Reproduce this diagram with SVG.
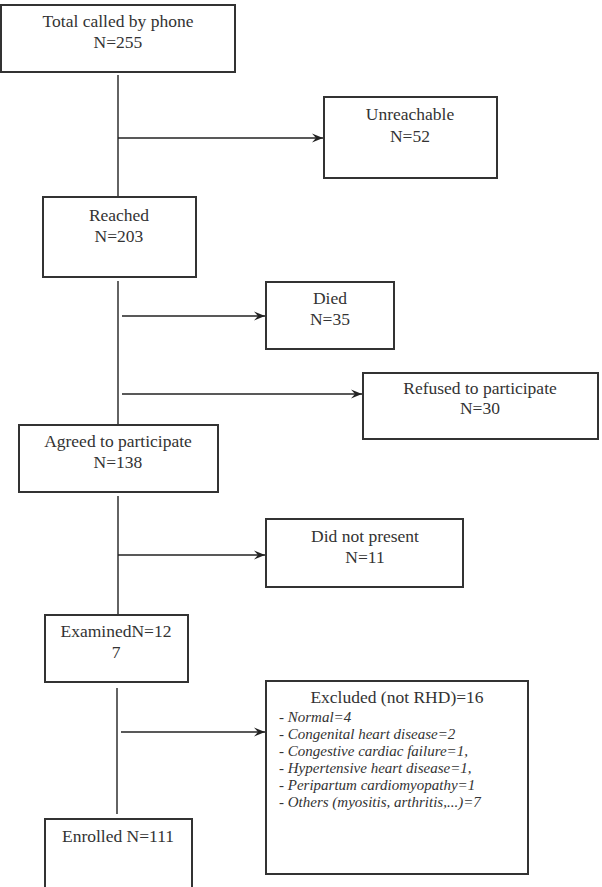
<svg xmlns="http://www.w3.org/2000/svg" width="602" height="887" viewBox="0 0 602 887">
<style>
.box{fill:#fff;stroke:#333;stroke-width:2}
.t{font-size:17.5px;fill:#333;text-anchor:middle}
.i{font-size:15px;font-style:italic;fill:#333}
.ln{stroke:#222;stroke-width:1.4;fill:none}
</style>
<defs>
<marker id="ar" markerWidth="12" markerHeight="10" refX="11" refY="5" orient="auto" markerUnits="userSpaceOnUse">
<path d="M0,0.5 L11,5 L0,9.5 L4,5 Z" fill="#222"/>
</marker>
</defs>
<rect width="602" height="887" fill="#fff"/>
<g id="connectors">
<line class="ln" x1="118" y1="75" x2="118" y2="197"/>
<line class="ln" x1="118" y1="138" x2="323" y2="138" marker-end="url(#ar)"/>
<line class="ln" x1="118" y1="281" x2="118" y2="425"/>
<line class="ln" x1="122" y1="316" x2="265" y2="316" marker-end="url(#ar)"/>
<line class="ln" x1="122" y1="394" x2="362" y2="394" marker-end="url(#ar)"/>
<line class="ln" x1="118" y1="496" x2="118" y2="615"/>
<line class="ln" x1="118" y1="555" x2="265" y2="555" marker-end="url(#ar)"/>
<line class="ln" x1="117" y1="688" x2="117" y2="814"/>
<line class="ln" x1="121" y1="732" x2="265" y2="732" marker-end="url(#ar)"/>
</g>
<g font-family="Liberation Serif, Times New Roman, DejaVu Serif, serif">
<g id="total">
<rect class="box" x="1" y="5" width="234" height="67"/>
<text class="t" x="118" y="27">Total called by phone</text>
<text class="t" x="118" y="48">N=255</text>
</g>
<g id="unreachable">
<rect class="box" x="324" y="97" width="173" height="81"/>
<text class="t" x="410" y="120">Unreachable</text>
<text class="t" x="410" y="142">N=52</text>
</g>
<g id="reached">
<rect class="box" x="43" y="197" width="153" height="80"/>
<text class="t" x="119" y="221">Reached</text>
<text class="t" x="119" y="242">N=203</text>
</g>
<g id="died">
<rect class="box" x="266" y="282" width="128" height="67"/>
<text class="t" x="330" y="304">Died</text>
<text class="t" x="330" y="325">N=35</text>
</g>
<g id="refused">
<rect class="box" x="363" y="373" width="235" height="66"/>
<text class="t" x="480" y="394">Refused to participate</text>
<text class="t" x="480" y="414">N=30</text>
</g>
<g id="agreed">
<rect class="box" x="19" y="425" width="199" height="67"/>
<text class="t" x="118" y="447">Agreed to participate</text>
<text class="t" x="118" y="468">N=138</text>
</g>
<g id="notpresent">
<rect class="box" x="266" y="519" width="197" height="68"/>
<text class="t" x="365" y="542">Did not present</text>
<text class="t" x="365" y="563">N=11</text>
</g>
<g id="examined">
<rect class="box" x="45" y="615" width="143" height="67"/>
<text class="t" x="116" y="637">ExaminedN=12</text>
<text class="t" x="116" y="658">7</text>
</g>
<g id="excluded">
<rect class="box" x="266" y="681" width="262" height="193"/>
<text class="t" x="397" y="703">Excluded (not RHD)=16</text>
<text class="i" x="279" y="722">- Normal=4</text>
<text class="i" x="279" y="739">- Congenital heart disease=2</text>
<text class="i" x="279" y="756">- Congestive cardiac failure=1,</text>
<text class="i" x="279" y="773">- Hypertensive heart disease=1,</text>
<text class="i" x="279" y="790">- Peripartum cardiomyopathy=1</text>
<text class="i" x="279" y="807">- Others (myositis, arthritis,...)=7</text>
</g>
<g id="enrolled">
<rect class="box" x="45" y="819" width="147" height="70"/>
<text class="t" x="118" y="842">Enrolled N=111</text>
</g>
</g>
</svg>
